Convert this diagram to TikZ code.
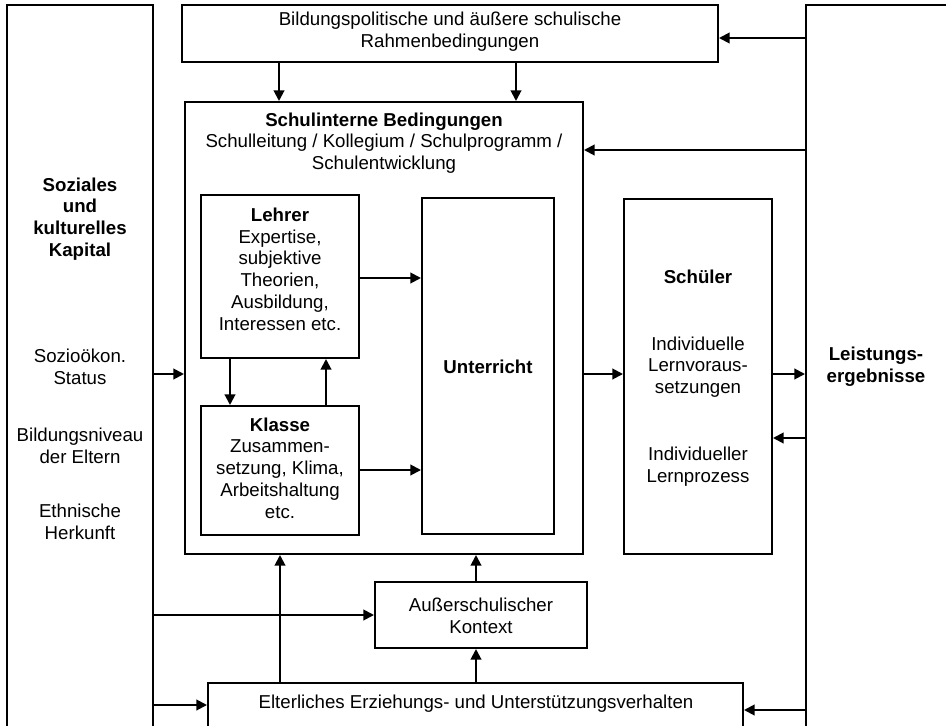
\documentclass[tikz,border=0pt]{standalone}
\usepackage{fontspec}
\setmainfont{Liberation Sans}
\usetikzlibrary{arrows.meta,fit,positioning}

\tikzset{
	kasten/.style={draw,line width=1.5pt,inner sep=0pt},
	txt/.style={align=center,inner sep=0pt,font=\fontsize{14}{16.3}\selectfont},
	fett/.style={txt,font=\fontsize{14}{16.3}\selectfont\bfseries},
	pfeil/.style={line width=1.5pt,-{Triangle[length=8pt,width=8pt]}}
}

\begin{document}
\begin{tikzpicture}[x=0.75pt,y=-0.75pt]
		\useasboundingbox (0,0) rectangle (946,725);
		\clip (0,0) rectangle (946,725);
		% Kaesten
		\node (kapital)[kasten,fit={(7,5) (153,780)}]{};
		\node (leistung)[kasten,fit={(806,5) (980,780)}]{};
		\node (politik)[kasten,fit={(182,5) (718,62)}]{};
		\node (schule)[kasten,fit={(185,102) (583,554)}]{};
		\node (lehrer)[kasten,fit={(201,195) (359,358)}]{};
		\node (klasse)[kasten,fit={(201,406) (359,535)}]{};
		\node (unterricht)[kasten,fit={(422,198) (554,534)}]{};
		\node (schueler)[kasten,fit={(624,199) (772,554)}]{};
		\node (kontext)[kasten,fit={(375,582) (587,648)}]{};
		\node (eltern)[kasten,fit={(208,683) (743,780)}]{};
		% Texte
		\node (politiktxt)[txt] at (politik.center |- 0,32){Bildungspolitische und äußere schulische\\Rahmenbedingungen};
		\node (schulkopf)[txt] at (schule.center |- 0,143){\textbf{Schulinterne Bedingungen}\\Schulleitung / Kollegium / Schulprogramm /\\Schulentwicklung};
		\node (lehrertxt)[txt] at (lehrer.center |- 0,269){\textbf{Lehrer}\\Expertise,\\subjektive\\Theorien,\\Ausbildung,\\Interessen etc.};
		\node (klassetxt)[txt] at (klasse.center |- 0,468){\textbf{Klasse}\\Zusammen-\\setzung, Klima,\\Arbeitshaltung\\etc.};
		\node (unterrichttxt)[fett] at (unterricht.center |- 0,367){Unterricht};
		\node (schuelerkopf)[fett] at (schueler.center |- 0,277){Schüler};
		\node (voraus)[txt] at (schueler.center |- 0,367){Individuelle\\Lernvoraus-\\setzungen};
		\node (prozess)[txt] at (schueler.center |- 0,467){Individueller\\Lernprozess};
		\node (kontexttxt)[txt] at (kontext.center |- 0,616){Außerschulischer\\Kontext};
		\node (elterntxt)[txt] at (476,704){Elterliches Erziehungs- und Unterstützungsverhalten};
		\node (kapitaltxt)[fett] at (80,219){Soziales\\und\\kulturelles\\Kapital};
		\node (sozio)[txt] at (80,367){Sozioökon.\\Status};
		\node (bildung)[txt] at (80,446){Bildungsniveau\\der Eltern};
		\node (ethnie)[txt] at (80,522){Ethnische\\Herkunft};
		\node (leistungtxt)[fett] at (876,367){Leistungs-\\ergebnisse};
		% Pfeile
		\draw[pfeil] (leistung.west |- 0,38) -- (politik.east |- 0,38);
		\draw[pfeil] (politik.south -| 279,0) -- (schule.north -| 279,0);
		\draw[pfeil] (politik.south -| 516,0) -- (schule.north -| 516,0);
		\draw[pfeil] (leistung.west |- 0,150) -- (schule.east |- 0,150);
		\draw[pfeil] (lehrer.east |- 0,278) -- (unterricht.west |- 0,278);
		\draw[pfeil] (klasse.east |- 0,470) -- (unterricht.west |- 0,470);
		\draw[pfeil] (lehrer.south -| 230,0) -- (klasse.north -| 230,0);
		\draw[pfeil] (klasse.north -| 326,0) -- (lehrer.south -| 326,0);
		\draw[pfeil] (kapital.east |- 0,374) -- (schule.west |- 0,374);
		\draw[pfeil] (schule.east |- 0,374) -- (schueler.west |- 0,374);
		\draw[pfeil] (schueler.east |- 0,374) -- (leistung.west |- 0,374);
		\draw[pfeil] (leistung.west |- 0,438) -- (schueler.east |- 0,438);
		\draw[pfeil] (kapital.east |- 0,615) -- (kontext.west |- 0,615);
		\draw[pfeil] (kontext.north -| 476,0) -- (schule.south -| 476,0);
		\draw[pfeil] (eltern.north -| 476,0) -- (kontext.south -| 476,0);
		\draw[pfeil] (eltern.north -| 280,0) -- (schule.south -| 280,0);
		\draw[pfeil] (kapital.east |- 0,705) -- (eltern.west |- 0,705);
		\draw[pfeil] (leistung.west |- 0,710) -- (eltern.east |- 0,710);
\end{tikzpicture}
\end{document}
